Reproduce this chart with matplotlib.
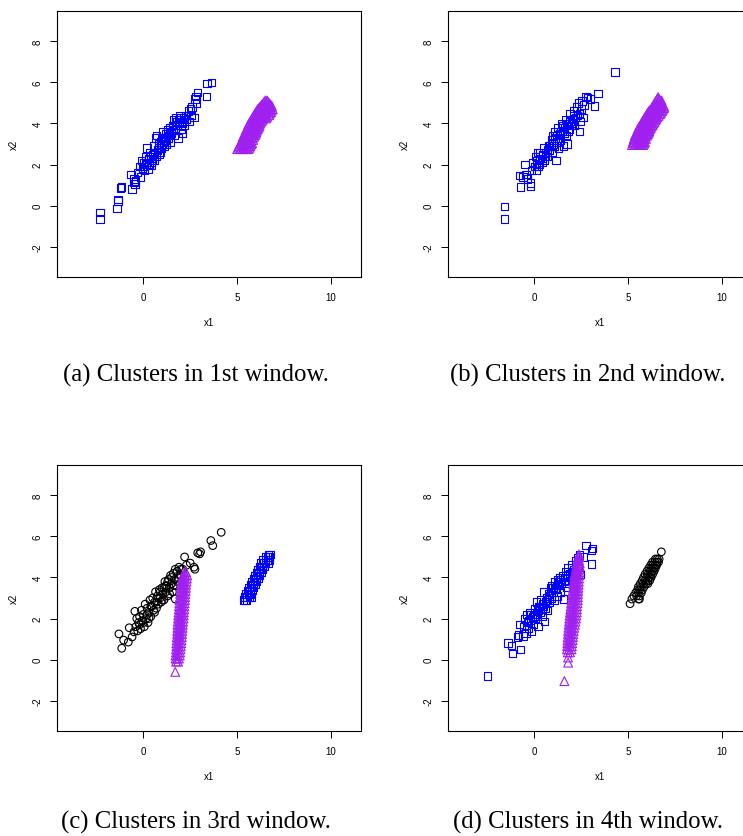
import matplotlib
matplotlib.use("Agg")
import matplotlib.pyplot as plt

W, H = 743, 837

# ---------------- data ----------------
# scattered clusters: (x1, x2) pairs
a_blue = [(-2.3, -0.35), (-2.3, -0.65), (-1.35, 0.3), (-1.4, -0.15), (-1.35, 0.22),
          (-1.2, 0.85), (-1.15, 0.9), (-0.6, 0.8), (-0.65, 1.5), (-0.5, 1.3), (-0.45, 1.05),
          (-0.5, 1.15), (-0.4, 1.2), (-0.3, 1.6), (-0.2, 1.9), (-0.15, 1.4), (-0.1, 2.2),
          (-0.05, 1.8), (0.0, 2.1), (0.05, 1.7), (0.1, 2.4), (0.15, 2.0), (0.2, 2.8),
          (0.25, 1.75), (0.3, 2.3), (0.35, 2.6), (0.4, 2.1), (0.45, 1.95), (0.5, 2.5),
          (0.55, 2.9), (0.6, 2.2), (0.65, 3.3), (0.7, 3.4), (0.75, 2.7), (0.8, 3.0),
          (0.85, 2.5), (0.9, 3.1), (0.95, 2.8), (1.0, 3.3), (1.05, 3.6), (1.1, 2.9),
          (1.15, 3.2), (1.2, 3.5), (1.25, 3.0), (1.3, 3.7), (1.35, 3.3), (1.4, 3.8),
          (1.45, 3.1), (1.5, 3.5), (1.55, 3.9), (1.6, 4.2), (1.65, 3.4), (1.7, 3.7),
          (1.75, 4.3), (1.8, 3.9), (1.85, 3.3), (1.9, 4.0), (1.95, 4.4), (2.0, 3.7),
          (2.05, 4.1), (2.1, 3.5), (2.15, 4.3), (2.2, 3.9), (2.25, 4.4), (2.3, 4.2),
          (2.4, 4.6), (2.45, 4.1), (2.5, 4.7), (2.55, 4.4), (2.6, 4.8), (2.7, 4.3),
          (2.75, 5.2), (2.8, 5.3), (2.85, 5.0), (2.9, 5.5), (3.35, 5.3), (3.4, 5.95),
          (3.65, 6.0), (0.3, 2.0), (0.5, 2.2), (0.7, 2.4), (0.9, 2.6), (1.1, 3.1),
          (1.3, 3.4), (1.5, 3.6), (1.7, 3.9), (1.9, 4.2), (2.1, 4.0), (0.0, 1.9),
          (0.2, 2.1), (0.4, 2.4), (0.6, 2.6), (0.8, 2.8), (1.0, 3.0), (1.2, 3.3),
          (1.4, 3.5), (1.6, 3.7), (1.8, 4.1), (2.0, 4.3), (2.2, 4.2)]

b_blue = [(-1.6, -0.05), (-1.6, -0.65), (4.3, 6.5), (3.4, 5.45), (3.2, 4.85), (2.4, 3.6),
          (-0.8, 1.45), (-0.75, 0.9), (-0.6, 1.4), (-0.5, 2.0), (-0.45, 1.5), (-0.35, 1.3),
          (-0.2, 1.1), (-0.2, 0.95), (-0.15, 1.7), (-0.1, 2.1), (0.0, 1.9), (0.05, 2.4),
          (0.1, 1.7), (0.15, 2.2), (0.2, 2.6), (0.25, 2.0), (0.3, 2.3), (0.4, 2.1),
          (0.45, 2.5), (0.5, 2.8), (0.55, 2.2), (0.6, 2.6), (0.7, 2.4), (0.75, 2.9),
          (0.8, 2.7), (0.9, 3.2), (0.95, 2.6), (1.0, 3.4), (1.05, 2.9), (1.1, 3.6),
          (1.15, 2.2), (1.2, 3.1), (1.25, 3.8), (1.3, 2.8), (1.35, 3.5), (1.4, 3.2),
          (1.45, 4.0), (1.5, 3.6), (1.55, 2.9), (1.6, 3.8), (1.65, 4.2), (1.7, 3.4),
          (1.75, 3.0), (1.8, 4.0), (1.85, 3.7), (1.9, 4.5), (1.95, 3.9), (2.0, 4.2),
          (2.1, 4.6), (2.15, 3.9), (2.2, 4.3), (2.25, 4.8), (2.3, 4.4), (2.35, 5.0),
          (2.4, 4.5), (2.45, 4.1), (2.5, 4.7), (2.55, 5.1), (2.6, 4.3), (2.65, 4.9),
          (2.75, 5.3), (2.85, 5.25), (3.0, 5.2), (0.2, 1.9), (0.4, 2.3), (0.6, 2.4),
          (0.8, 2.9), (1.0, 3.0), (1.2, 3.4), (1.4, 3.6), (1.6, 3.5), (1.8, 3.6),
          (2.0, 4.0), (0.1, 2.0), (0.3, 2.6), (0.7, 2.7), (0.9, 2.9), (1.1, 3.3),
          (1.3, 3.3), (1.5, 3.9), (1.7, 4.0), (1.9, 4.1), (2.1, 4.4)]

c_black = [(-1.3, 1.25), (-1.15, 0.55), (-1.05, 0.95), (-0.8, 0.85), (-0.75, 1.55),
           (-0.6, 1.1), (-0.5, 1.35), (-0.45, 2.35), (-0.4, 1.6), (-0.35, 2.0), (-0.3, 1.4),
           (-0.25, 1.8), (-0.2, 2.1), (-0.15, 1.5), (-0.1, 2.4), (-0.05, 1.9), (0.0, 2.2),
           (0.05, 1.6), (0.1, 2.7), (0.15, 2.0), (0.2, 2.5), (0.25, 1.8), (0.3, 2.3),
           (0.35, 2.9), (0.4, 2.1), (0.45, 2.6), (0.5, 3.0), (0.55, 2.4), (0.6, 2.8),
           (0.65, 3.3), (0.7, 2.5), (0.75, 3.1), (0.8, 2.7), (0.85, 3.4), (0.9, 3.0),
           (0.95, 2.8), (1.0, 3.5), (1.05, 3.2), (1.1, 2.9), (1.15, 3.8), (1.2, 3.3),
           (1.25, 3.6), (1.3, 3.1), (1.35, 3.9), (1.4, 3.5), (1.45, 4.1), (1.5, 3.7),
           (1.55, 3.3), (1.6, 4.2), (1.65, 3.9), (1.7, 4.4), (1.7, 2.95), (1.75, 3.6),
           (1.8, 4.3), (1.85, 4.0), (1.9, 4.5), (2.0, 4.1), (2.1, 4.4), (2.2, 5.0),
           (2.3, 4.6), (2.5, 4.7), (2.7, 4.5), (2.75, 4.4), (2.9, 5.2), (3.0, 5.15),
           (3.05, 5.25), (3.6, 5.8), (3.7, 5.55), (4.15, 6.2), (0.0, 1.8), (0.2, 2.2),
           (0.4, 2.6), (0.6, 2.3), (0.8, 3.0), (1.0, 2.9), (1.2, 3.6), (1.4, 3.2),
           (1.6, 3.6), (1.8, 3.8), (-0.2, 1.7), (0.3, 2.0), (0.7, 2.8), (0.9, 3.3),
           (1.1, 3.5), (1.3, 3.8), (1.5, 4.0), (2.0, 4.4)]

d_blue = [(-2.5, -0.8), (-1.4, 0.8), (-1.2, 0.7), (-1.15, 0.3), (-0.9, 1.1), (-0.85, 1.2),
          (-0.8, 1.7), (-0.75, 0.5), (-0.6, 1.15), (-0.55, 1.6), (-0.5, 2.0), (-0.45, 1.3),
          (-0.4, 2.2), (-0.35, 1.8), (-0.3, 1.5), (-0.25, 2.3), (-0.2, 1.9), (-0.15, 1.4),
          (-0.1, 2.1), (-0.05, 1.7), (0.0, 2.5), (0.05, 2.0), (0.1, 2.8), (0.15, 2.2),
          (0.2, 1.6), (0.25, 2.6), (0.3, 2.3), (0.35, 2.9), (0.4, 2.1), (0.45, 2.7),
          (0.5, 3.3), (0.55, 1.85), (0.6, 2.5), (0.65, 3.0), (0.7, 2.4), (0.75, 3.2),
          (0.8, 2.8), (0.85, 3.5), (0.9, 3.0), (0.95, 3.6), (1.0, 3.3), (1.05, 2.9),
          (1.1, 3.8), (1.15, 3.4), (1.2, 3.1), (1.25, 3.9), (1.3, 3.6), (1.35, 4.0),
          (1.4, 3.3), (1.45, 3.7), (1.5, 4.1), (1.55, 2.95), (1.6, 3.8), (1.65, 4.3),
          (1.7, 3.5), (1.75, 4.0), (1.8, 4.5), (1.85, 3.7), (1.9, 4.2), (2.0, 4.6),
          (2.05, 3.9), (2.1, 4.4), (2.2, 4.8), (2.25, 4.2), (2.3, 4.95), (2.35, 4.6),
          (2.4, 5.1), (2.45, 4.15), (2.6, 5.0), (2.75, 5.55), (3.05, 4.65), (3.1, 5.4),
          (3.05, 5.3), (-0.2, 2.2), (0.0, 2.1), (0.2, 2.4), (0.4, 2.5), (0.6, 2.8),
          (0.8, 3.1), (1.0, 3.5), (1.2, 3.6), (1.4, 3.9), (1.6, 4.0), (1.8, 4.1),
          (2.0, 4.3), (-0.3, 1.9), (0.1, 2.2), (0.3, 2.6), (0.5, 2.6), (0.7, 2.9),
          (0.9, 3.3), (1.1, 3.4), (1.3, 3.8)]

# dense clusters, read row by row: x2 value -> list of x1 values
a_purple_rows = {
    2.75: [5.0, 5.15, 5.3, 5.45, 5.6], 2.82: [5.08, 5.22, 5.38, 5.52, 5.66],
    2.9: [5.1, 5.3, 5.5, 5.7], 2.98: [5.18, 5.4, 5.6, 5.76],
    3.05: [5.2, 5.35, 5.5, 5.65, 5.8], 3.13: [5.28, 5.44, 5.58, 5.74],
    3.2: [5.25, 5.42, 5.55, 5.72, 5.85], 3.28: [5.34, 5.5, 5.66, 5.82],
    3.35: [5.3, 5.46, 5.6, 5.76, 5.9], 3.43: [5.38, 5.52, 5.68, 5.82, 5.95],
    3.5: [5.4, 5.55, 5.7, 5.86, 6.0], 3.58: [5.44, 5.6, 5.76, 5.92, 6.02],
    3.65: [5.45, 5.62, 5.75, 5.9, 6.05], 3.73: [5.5, 5.66, 5.8, 5.96, 6.1],
    3.8: [5.55, 5.7, 5.86, 6.0, 6.15], 3.88: [5.58, 5.74, 5.9, 6.04, 6.18],
    3.95: [5.6, 5.76, 5.9, 6.06, 6.2], 4.03: [5.66, 5.8, 5.96, 6.1, 6.24],
    4.1: [5.7, 5.85, 6.0, 6.16, 6.3], 4.18: [5.76, 5.9, 6.06, 6.2, 6.36],
    4.25: [5.8, 5.95, 6.1, 6.26, 6.4, 6.55], 4.33: [5.86, 6.0, 6.16, 6.3, 6.46, 6.6],
    4.4: [5.9, 6.05, 6.2, 6.36, 6.5, 6.7], 4.48: [5.96, 6.1, 6.26, 6.42, 6.56, 6.74],
    4.55: [6.0, 6.15, 6.3, 6.46, 6.6, 6.8], 4.63: [6.06, 6.2, 6.36, 6.52, 6.68, 6.84],
    4.7: [6.1, 6.25, 6.4, 6.56, 6.75, 6.9], 4.78: [6.18, 6.34, 6.48, 6.64, 6.8],
    4.85: [6.25, 6.4, 6.55, 6.7, 6.85], 4.93: [6.32, 6.48, 6.62, 6.78],
    5.0: [6.4, 6.55, 6.7], 5.06: [6.45, 6.62], 5.12: [6.5, 6.6],
}

b_purple_rows = {
    2.95: [5.2, 5.35, 5.5, 5.65, 5.8], 3.02: [5.28, 5.42, 5.58, 5.72, 5.86],
    3.1: [5.25, 5.45, 5.6, 5.75, 5.9], 3.17: [5.35, 5.52, 5.68, 5.82],
    3.25: [5.3, 5.5, 5.65, 5.85, 5.95], 3.32: [5.4, 5.58, 5.75, 5.9],
    3.4: [5.35, 5.55, 5.7, 5.9, 6.0], 3.47: [5.45, 5.62, 5.8, 5.95, 6.05],
    3.55: [5.45, 5.6, 5.8, 5.95, 6.1], 3.62: [5.52, 5.66, 5.88, 6.04, 6.12],
    3.7: [5.5, 5.7, 5.85, 6.0, 6.15], 3.77: [5.55, 5.76, 5.92, 6.06, 6.2],
    3.85: [5.6, 5.75, 5.95, 6.1, 6.25], 3.92: [5.66, 5.8, 5.98, 6.15, 6.3],
    4.0: [5.7, 5.85, 6.0, 6.2, 6.35], 4.07: [5.75, 5.9, 6.05, 6.22, 6.4],
    4.15: [5.8, 5.95, 6.1, 6.25, 6.45], 4.22: [5.85, 6.0, 6.15, 6.32, 6.5],
    4.3: [5.9, 6.05, 6.2, 6.4, 6.55], 4.37: [5.95, 6.1, 6.25, 6.45, 6.62],
    4.45: [6.0, 6.15, 6.3, 6.5, 6.7], 4.52: [6.05, 6.2, 6.38, 6.55, 6.75],
    4.6: [6.1, 6.25, 6.45, 6.6, 6.8], 4.67: [6.18, 6.32, 6.5, 6.68, 6.85],
    4.75: [6.25, 6.4, 6.55, 6.75, 6.9], 4.82: [6.3, 6.45, 6.6, 6.78, 6.92],
    4.9: [6.35, 6.5, 6.65, 6.8], 4.97: [6.4, 6.55, 6.7, 6.82],
    5.05: [6.45, 6.6, 6.75], 5.12: [6.5, 6.66, 6.78], 5.2: [6.55, 6.65], 5.28: [6.6],
}

c_purple_rows = {
    -0.6: [1.7], -0.1: [1.75, 1.85], 0.05: [1.72, 1.8, 1.9], 0.2: [1.72, 1.82, 1.94],
    0.35: [1.74, 1.84, 1.96], 0.5: [1.74, 1.86, 1.98], 0.65: [1.76, 1.87, 2.0],
    0.8: [1.76, 1.88, 2.02], 0.95: [1.78, 1.9, 2.03], 1.1: [1.78, 1.9, 2.05],
    1.25: [1.8, 1.92, 2.06], 1.4: [1.8, 1.93, 2.08], 1.55: [1.82, 1.94, 2.09],
    1.7: [1.82, 1.96, 2.1], 1.85: [1.84, 1.97, 2.12], 2.0: [1.85, 1.98, 2.14],
    2.15: [1.86, 2.0, 2.15], 2.3: [1.88, 2.01, 2.16], 2.45: [1.89, 2.02, 2.18],
    2.6: [1.9, 2.04, 2.19], 2.75: [1.92, 2.05, 2.2], 2.9: [1.93, 2.07, 2.22],
    3.05: [1.95, 2.08, 2.23], 3.2: [1.96, 2.1, 2.24], 3.35: [1.98, 2.11, 2.26],
    3.5: [2.0, 2.13, 2.27], 3.65: [2.02, 2.14, 2.28], 3.8: [2.04, 2.16, 2.3],
    3.95: [2.07, 2.18, 2.32], 4.1: [2.12, 2.22, 2.34], 4.25: [2.18, 2.28],
}

c_blue_rows = {
    2.9: [5.35, 5.42, 5.5], 3.05: [5.38, 5.52, 5.66, 5.75], 3.2: [5.48, 5.6, 5.72],
    3.35: [5.56, 5.68, 5.8], 3.5: [5.64, 5.76, 5.88], 3.65: [5.72, 5.84, 5.96],
    3.8: [5.8, 5.92, 6.04], 3.95: [5.88, 6.0, 6.12], 4.1: [5.96, 6.08, 6.2],
    4.25: [6.04, 6.16, 6.28], 4.4: [6.12, 6.24, 6.36], 4.55: [6.2, 6.32, 6.44],
    4.7: [6.28, 6.4, 6.52, 6.66], 4.85: [6.38, 6.5, 6.62, 6.72], 5.0: [6.5, 6.62, 6.72],
    5.12: [6.68, 6.75],
}

d_purple_rows = {
    -1.05: [1.6], -0.15: [1.8], 0.1: [1.8], 0.35: [1.78, 1.9], 0.5: [1.74, 1.86, 1.98],
    0.65: [1.75, 1.87, 2.0], 0.8: [1.76, 1.88, 2.02], 0.95: [1.77, 1.9, 2.04],
    1.1: [1.78, 1.92, 2.06], 1.25: [1.79, 1.94, 2.08], 1.4: [1.8, 1.96, 2.1],
    1.55: [1.82, 1.98, 2.13], 1.7: [1.83, 2.0, 2.16], 1.85: [1.85, 2.02, 2.19],
    2.0: [1.86, 2.04, 2.22], 2.15: [1.88, 2.05, 2.24], 2.3: [1.9, 2.07, 2.26],
    2.45: [1.92, 2.09, 2.27], 2.6: [1.94, 2.1, 2.28], 2.75: [1.96, 2.12, 2.3],
    2.9: [1.98, 2.14, 2.31], 3.05: [2.0, 2.15, 2.32], 3.2: [2.02, 2.17, 2.33],
    3.35: [2.04, 2.18, 2.34], 3.5: [2.06, 2.2, 2.35], 3.65: [2.08, 2.21, 2.36],
    3.8: [2.1, 2.23, 2.37], 3.95: [2.12, 2.25, 2.38], 4.1: [2.15, 2.27, 2.39],
    4.25: [2.18, 2.29, 2.4], 4.4: [2.2, 2.31, 2.41], 4.55: [2.23, 2.33, 2.42],
    4.7: [2.26, 2.35, 2.42], 4.85: [2.3, 2.38], 5.0: [2.34, 2.4], 5.12: [2.38],
}

d_black_rows = {
    2.72: [5.1], 2.95: [5.2, 5.55, 5.6], 3.1: [5.3, 5.45, 5.6], 3.25: [5.4, 5.55, 5.7],
    3.4: [5.5, 5.62, 5.76], 3.55: [5.55, 5.7, 5.85], 3.7: [5.65, 5.8, 5.95, 6.05],
    3.85: [5.75, 5.9, 6.05, 6.15], 4.0: [5.82, 5.98, 6.12, 6.22],
    4.15: [5.9, 6.05, 6.2, 6.3], 4.3: [6.0, 6.15, 6.28, 6.38],
    4.45: [6.1, 6.24, 6.36, 6.45], 4.6: [6.2, 6.32, 6.45, 6.52],
    4.75: [6.3, 6.42, 6.54, 6.62], 4.9: [6.45, 6.55, 6.65], 5.25: [6.77],
}

captions = ["(a) Clusters in 1st window.", "(b) Clusters in 2nd window.",
            "(c) Clusters in 3rd window.", "(d) Clusters in 4th window."]
x_ticks = [0, 5, 10]
y_ticks = [-2, 0, 2, 4, 6, 8]
x_label = "x1"
y_label = "x2"


def rows_to_points(rows):
    return [(x, y) for y, xs in rows.items() for x in xs]


# ---------------- styling ----------------
BLUE = "#0000FF"
PURPLE = "#A020F0"
BLACK = "#000000"
MARKERS = {"blue": ("s", BLUE, 28), "purple": ("^", PURPLE, 40), "black": ("o", BLACK, 30)}

panels = [
    [("blue", a_blue), ("purple", rows_to_points(a_purple_rows))],
    [("blue", b_blue), ("purple", rows_to_points(b_purple_rows))],
    [("black", c_black), ("purple", rows_to_points(c_purple_rows)),
     ("blue", rows_to_points(c_blue_rows))],
    [("blue", d_blue), ("purple", rows_to_points(d_purple_rows)),
     ("black", rows_to_points(d_black_rows))],
]

# pixel boxes: left, top (axes width 304, height 266)
boxes = [(57, 12), (448, 12), (57, 466), (448, 466)]
AW, AH = 304, 266
caption_pos = [(196, 375), (588, 375), (196, 822), (588, 822)]

fig = plt.figure(figsize=(W / 100, H / 100), dpi=100)
fig.patch.set_facecolor("white")

for i, (panel, (lx, ty)) in enumerate(zip(panels, boxes)):
    ax = fig.add_axes([lx / W, 1 - (ty + AH) / H, AW / W, AH / H])
    for kind, pts in panel:
        m, col, s = MARKERS[kind]
        xs = [p[0] for p in pts]
        ys = [p[1] for p in pts]
        ax.scatter(xs, ys, marker=m, s=s, facecolors="none", edgecolors=col,
                   linewidths=0.8, clip_on=False)
    ax.set_xlim(-4.6, 11.6)
    ax.set_ylim(-3.48, 9.48)
    ax.set_xticks(x_ticks)
    ax.set_yticks(y_ticks)
    ax.set_xticklabels([str(t) for t in x_ticks], fontsize=7, family="Liberation Sans")
    ax.set_yticklabels([str(t) for t in y_ticks], fontsize=7, family="Liberation Sans",
                       rotation=90, va="center")
    ax.tick_params(direction="out", length=5, width=0.7, pad=5.5)
    for sp in ax.spines.values():
        sp.set_linewidth(0.8)
    ax.set_xlabel(x_label, fontsize=7, family="Liberation Sans", labelpad=11)
    ax.set_ylabel(y_label, fontsize=7, family="Liberation Sans", labelpad=10)
    cx, cy = caption_pos[i]
    fig.text(cx / W, 1 - cy / H, captions[i], ha="center", va="center",
             fontsize=17.8, family="Liberation Serif")

fig.savefig("out.png", dpi=100)
